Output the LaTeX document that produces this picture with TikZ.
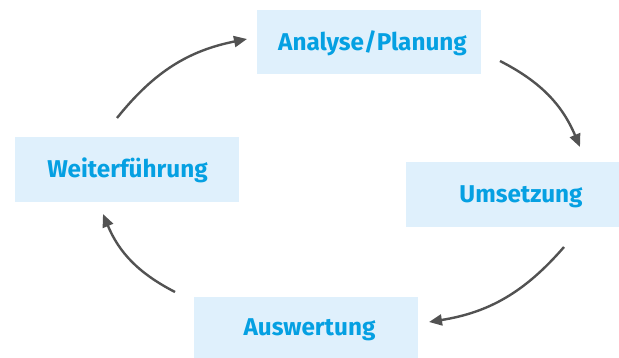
\documentclass[tikz,border=0pt]{standalone}
\usepackage{fontspec}
\setmainfont{Fira Sans}
\usetikzlibrary{arrows.meta}
\definecolor{boxfill}{HTML}{DFF0FC}
\definecolor{txtblue}{HTML}{05A0E2}
\definecolor{arrgray}{HTML}{525252}
\tikzset{
  box/.style={fill=boxfill, draw=none, inner sep=0pt},
  lbl/.style={text=txtblue, font=\fontsize{24.3}{28}\selectfont\bfseries, inner sep=0pt, anchor=base},
  cyc/.style={draw=arrgray, line width=2.4pt, -{Triangle[length=13pt,width=11pt]}, bend left=20}
}
\begin{document}
\begin{tikzpicture}[x=1pt,y=-1pt]
\useasboundingbox (0,0) rectangle (619,358);
% boxes
\node[box, minimum width=224pt, minimum height=64pt] (ap) at (369,42) {};
\node[box, minimum width=224pt, minimum height=65pt] (wf) at (127,169.5) {};
\node[box, minimum width=213pt, minimum height=65pt] (um) at (512.5,194.5) {};
\node[box, minimum width=224pt, minimum height=61pt] (aw) at (306,327.5) {};
% labels
\node[lbl] (tap) at (372.5,51) {Analyse/Planung};
\node[lbl] (twf) at (127.5,178) {Weiterführung};
\node[lbl] (tum) at (521,203) {Umsetzung};
\node[lbl] (taw) at (309.5,336) {Auswertung};
% connector ends
\coordinate (s1) at (117,118); \coordinate (e1) at (247,39);
\coordinate (s2) at (500,61);  \coordinate (e2) at (580,147);
\coordinate (s3) at (564,247); \coordinate (e3) at (429,322);
\coordinate (s4) at (175,292); \coordinate (e4) at (103,214);
\draw[cyc] (s1) to (e1);
\draw[cyc] (s2) to (e2);
\draw[cyc] (s3) to (e3);
\draw[cyc] (s4) to (e4);
\end{tikzpicture}
\end{document}
